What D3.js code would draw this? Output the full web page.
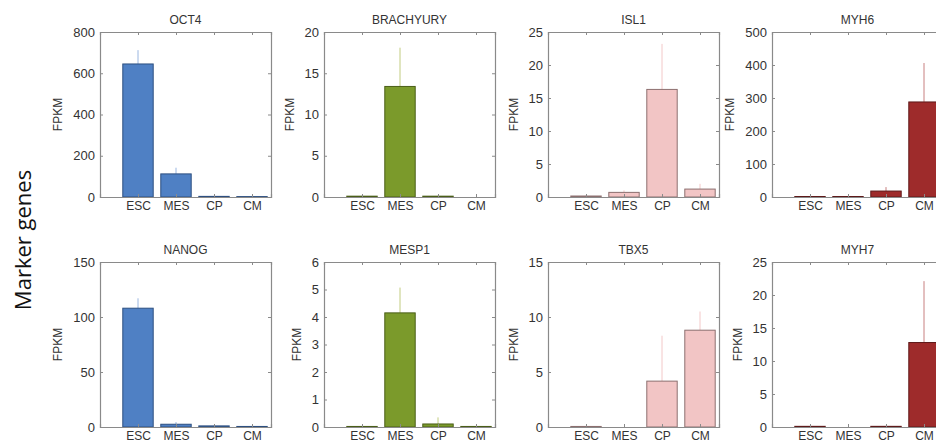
<!DOCTYPE html>
<html>
<head>
<meta charset="utf-8">
<script src="https://cdn.jsdelivr.net/npm/d3@7/dist/d3.min.js"></script>
<style>
  html, body { margin: 0; padding: 0; background: #fff; }
  svg text { font-family: "Liberation Sans", Arial, sans-serif; fill: #333; }
</style>
</head>
<body>
<div id="chart"></div>
<script>
// Data
const categories = ["ESC", "MES", "CP", "CM"];
const genes = ["OCT4", "BRACHYURY", "ISL1", "MYH6", "NANOG", "MESP1", "TBX5", "MYH7"];
const markerStage = ["ESC", "MES", "CP", "CM", "ESC", "MES", "CP", "CM"];
const yMax = [800, 20, 25, 500, 150, 6, 15, 25];
const yTickStep = [200, 5, 5, 100, 50, 1, 5, 5];
const means = [
  [645, 112, 3, 2],
  [0.1, 13.4, 0.1, 0],
  [0.15, 0.7, 16.3, 1.2],
  [1.5, 1.5, 18, 288],
  [108, 2.5, 1, 0.5],
  [0.02, 4.15, 0.11, 0.02],
  [0.05, 0, 4.17, 8.8],
  [0.1, 0, 0.1, 12.8]
];
const upper = [
  [712, 142, 4, 3],
  [0.15, 18.1, 0.15, 0],
  [0.2, 1.0, 23.2, 2.0],
  [2, 2, 30, 406],
  [117, 4.5, 1.2, 0.6],
  [0.03, 5.07, 0.35, 0.03],
  [0.07, 0, 8.3, 10.5],
  [0.15, 0, 0.15, 22.1]
];

// colours per stage
const fillColor = { ESC: "#4f80c4", MES: "#7b9a2b", CP: "#f2c5c5", CM: "#9e2b2b" };
const edgeColor = { ESC: "#2d4f80", MES: "#4a5e18", CP: "#8c6f6f", CM: "#5e1a1a" };
const errColor  = { ESC: "#9ab6e0", MES: "#c2cc80", CP: "#f3c8c8", CM: "#c88080" };

const W = 936, H = 444;
const svg = d3.select("#chart").append("svg")
  .attr("width", W).attr("height", H);

const panelW = 171, panelH = 165;
const lefts = [100, 324, 548, 772];
const tops = [32, 262];

// row label
svg.append("text")
  .attr("transform", `translate(31,240) rotate(-90)`)
  .attr("text-anchor", "middle")
  .style("font-family", "'Open Sans', sans-serif")
  .style("font-size", "22px")
  .style("fill", "#111")
  .text("Marker genes");

genes.forEach((gene, gi) => {
  const col = gi % 4, row = Math.floor(gi / 4);
  const g = svg.append("g")
    .attr("transform", `translate(${lefts[col]},${tops[row]})`);

  const x = d3.scaleLinear().domain([0, 4.5]).range([0, panelW]);
  const y = d3.scaleLinear().domain([0, yMax[gi]]).range([panelH, 0]);
  const yTicks = d3.range(0, yMax[gi] + yTickStep[gi] / 2, yTickStep[gi]);
  const stage = markerStage[gi];
  const bw = x(0.8) - x(0);

  // title
  g.append("text")
    .attr("x", panelW / 2)
    .attr("y", -8)
    .attr("text-anchor", "middle")
    .style("font-size", "12px")
    .text(gene);

  // error bars (upper only)
  g.selectAll(".err")
    .data(categories)
    .enter().append("line")
    .attr("x1", (d, i) => x(i + 1))
    .attr("x2", (d, i) => x(i + 1))
    .attr("y1", (d, i) => y(means[gi][i]))
    .attr("y2", (d, i) => y(upper[gi][i]))
    .attr("stroke", errColor[stage])
    .attr("stroke-width", 1);

  // bars
  g.selectAll(".bar")
    .data(categories.filter((d, i) => means[gi][i] > 0))
    .enter().append("rect")
    .attr("x", d => x(categories.indexOf(d) + 1) - bw / 2)
    .attr("width", bw)
    .attr("y", d => y(means[gi][categories.indexOf(d)]))
    .attr("height", d => Math.max(0.6, panelH - y(means[gi][categories.indexOf(d)])))
    .attr("fill", fillColor[stage])
    .attr("stroke", edgeColor[stage])
    .attr("stroke-width", 1);

  // axes: left with labels, others tick-only (box)
  const tickLen = 3;
  const yl = g.append("g")
    .call(d3.axisLeft(y).tickValues(yTicks).tickSize(-tickLen).tickPadding(5).tickFormat(d3.format("d")));
  const yr = g.append("g").attr("transform", `translate(${panelW},0)`)
    .call(d3.axisRight(y).tickValues(yTicks).tickSize(-tickLen).tickFormat(""));
  const xb = g.append("g").attr("transform", `translate(0,${panelH})`)
    .call(d3.axisBottom(x).tickValues([1, 2, 3, 4]).tickSize(-tickLen).tickPadding(4)
      .tickFormat(d => categories[d - 1]));
  const xt = g.append("g")
    .call(d3.axisTop(x).tickValues([1, 2, 3, 4]).tickSize(-tickLen).tickFormat(""));

  [yl, yr, xb, xt].forEach(a => {
    a.select(".domain").attr("stroke", "#8a8a8a").attr("stroke-width", 1.2);
    a.selectAll(".tick line").attr("stroke", "#8a8a8a");
  });
  yl.selectAll(".tick text").style("font-size", "13px").style("fill", "#333");
  xb.selectAll(".tick text").style("font-size", "12px").style("fill", "#333");

  // y label placed beside the widest tick label
  let maxW = 0;
  yl.selectAll(".tick text").each(function () { maxW = Math.max(maxW, this.getBBox().width); });
  g.append("text")
    .attr("transform", `translate(${-(maxW + 8 + 8)},${panelH / 2}) rotate(-90)`)
    .attr("text-anchor", "middle")
    .style("font-size", "12px")
    .text("FPKM");
});
</script>
</body>
</html>
